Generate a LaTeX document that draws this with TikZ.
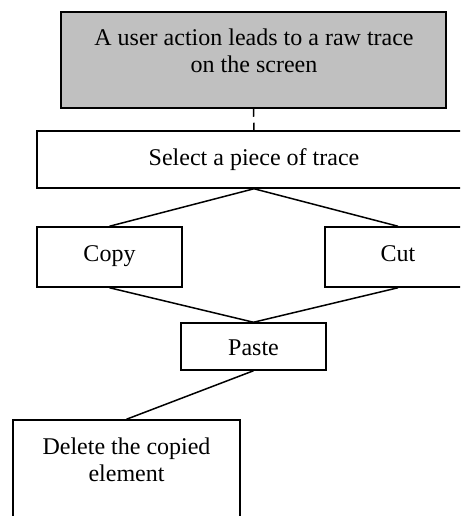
\documentclass[tikz,border=0pt]{standalone}
\usepackage{fontspec}
\setmainfont{Liberation Serif}
\definecolor{boxgray}{RGB}{192,192,192}
\begin{document}
\begin{tikzpicture}[x=1pt,y=-1pt,
  box/.style={draw=black,line width=1.5pt,rectangle,inner sep=0pt,
    font=\fontsize{24}{27.6}\selectfont},
  lbl/.style={font=\fontsize{24}{27.6}\selectfont,inner sep=0pt,align=center},
  conn/.style={line width=1.5pt}]
\useasboundingbox (0,0) rectangle (460,516);
\clip (0,0) rectangle (460,516);
% boxes
\node[box,fill=boxgray,minimum width=385pt,minimum height=96pt] (top) at (253.5,60) {};
\node[lbl,anchor=base] (toptext) at (254,72.7) {A user action leads to a raw trace\\on the screen};
\node[box,minimum width=434pt,minimum height=57pt,text height=16.5pt,text depth=5.5pt] (select) at (254,159.5) {Select a piece of trace};
\node[box,minimum width=145pt,minimum height=60pt,text height=15.7pt,text depth=6.3pt] (copy) at (109.5,257) {Copy};
\node[box,minimum width=146pt,minimum height=60pt,text height=15.7pt,text depth=6.3pt] (cut) at (398,257) {Cut};
\node[box,minimum width=145pt,minimum height=47pt,text height=20.2pt,text depth=1.8pt] (paste) at (253.5,346.5) {Paste};
\node[box,minimum width=227pt,minimum height=120pt] (delete) at (126.5,480) {};
\node[lbl,anchor=base] (deltext) at (126.5,481.7) {Delete the copied\\element};
% connectors
\draw[conn,dash pattern=on 8pt off 6pt] (top.south) -- (select.north);
\draw[conn] (copy.north) -- (select.south) -- (cut.north);
\draw[conn] (copy.south) -- (paste.north) -- (cut.south);
\draw[conn] (paste.south) -- (delete.north);
\end{tikzpicture}
\end{document}
